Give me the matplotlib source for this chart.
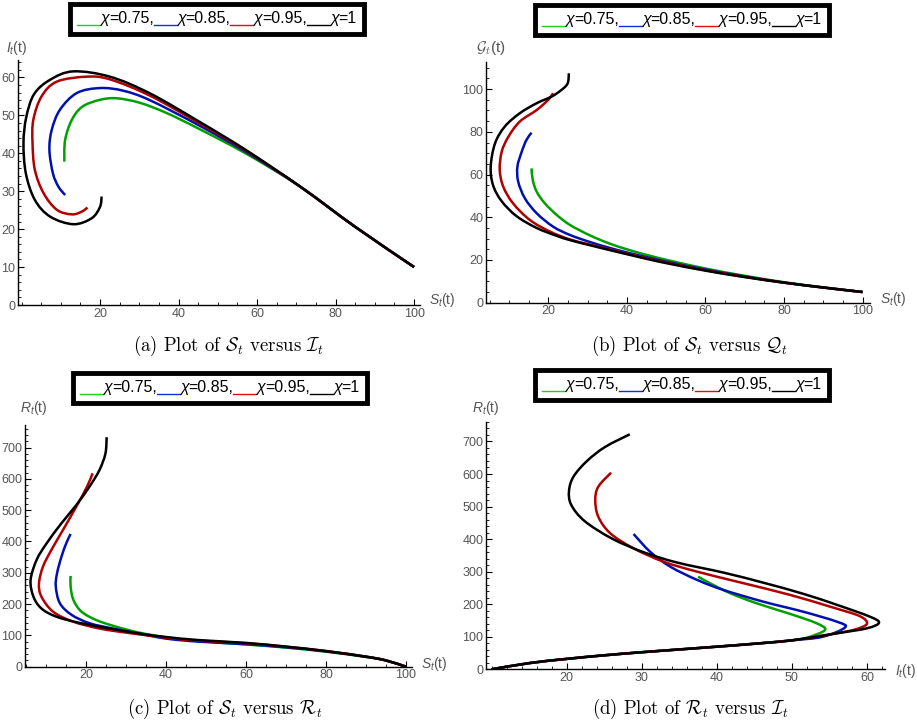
import matplotlib
matplotlib.use("Agg")
import numpy as np
import matplotlib.pyplot as plt
from matplotlib.offsetbox import TextArea, HPacker, AnchoredOffsetbox, DrawingArea
from matplotlib.lines import Line2D
from matplotlib.path import Path
from matplotlib.patches import PathPatch
from matplotlib.ticker import MultipleLocator

plt.rcParams['font.family'] = ['Liberation Sans', 'DejaVu Sans']
plt.rcParams['mathtext.fontset'] = 'custom'
plt.rcParams['mathtext.it'] = 'Liberation Sans:italic'
plt.rcParams['mathtext.rm'] = 'Liberation Sans'

# ---------------- data ----------------
chi_labels = ["0.75", "0.85", "0.95", "1"]
line_colors = ['#00a000', '#0010b0', '#b00000', '#000000']
legend_colors = ['#20d020', '#1030e0', '#e01010', '#000000']

# (a) S vs I
a_S_075 = [100, 85, 71, 57.4, 45.5, 37.0, 30.2, 24.3, 20.0, 15.5, 12.8, 11.1, 10.9]
a_I_075 = [10, 20.6, 31.2, 39.8, 46.3, 50.6, 53.3, 54.5, 54.1, 52.3, 48.8, 43.5, 37.8]
a_S_085 = [100, 85, 71, 57.4, 45.5, 32.7, 25.9, 20.0, 14.1, 9.8, 7.7, 7.1, 8.0, 9.4, 11.1]
a_I_085 = [10, 20.6, 31.2, 40.2, 47.2, 54.0, 56.5, 57.2, 55.9, 51.5, 46.2, 40.9, 34.7, 31.2, 29.0]
a_S_095 = [100, 85, 71, 57.4, 45.5, 32.7, 22.5, 16.6, 9.0, 5.1, 3.0, 2.8, 3.4, 5.6, 9.0, 12.8, 15.3, 16.8]
a_I_095 = [10, 20.6, 31.2, 40.5, 47.8, 55.2, 59.5, 60.2, 58.9, 55.0, 48.8, 42.7, 35.6, 29.5, 25.1, 23.9, 24.6, 25.7]
a_S_1 = [100, 85, 71, 57.4, 45.5, 32.7, 22.5, 13.2, 7.3, 3.2, 1.2, 0.5, 1.1, 3.4, 7.3, 13.2, 17.9, 20.0, 20.4]
a_I_1 = [10, 20.6, 31.2, 40.7, 48.2, 55.8, 60.2, 61.6, 59.4, 55.6, 49.5, 42.7, 34.7, 27.7, 23.3, 21.3, 22.9, 25.9, 28.6]

# (b) S vs Q
b_S_075 = [100, 90, 80, 70, 60, 50.9, 45.8, 40.7, 35.7, 30.6, 25.5, 22.1, 19.1, 17.0, 16.0, 15.7]
b_Q_075 = [5.0, 7.2, 9.6, 12.6, 16.0, 19.7, 22.0, 24.6, 27.6, 31.5, 36.4, 41.1, 46.5, 52.0, 57.5, 62.9]
b_S_085 = [100, 90, 80, 70, 60, 50.9, 45.8, 40.7, 35.7, 30.6, 25.5, 21.2, 17.0, 14.0, 12.3, 12.1, 13.2, 14.4, 15.7]
b_Q_085 = [5.0, 7.1, 9.4, 12.3, 15.5, 18.9, 21.0, 23.2, 25.6, 28.4, 31.7, 35.6, 41.9, 48.9, 56.7, 63.7, 70.7, 76.2, 79.6]
b_S_095 = [100, 90, 80, 70, 60, 50.9, 45.8, 40.7, 35.7, 30.6, 25.5, 20.4, 15.3, 11.0, 8.5, 7.6, 8.1, 9.8, 12.7, 17.0, 19.9, 21.2]
b_Q_095 = [5.0, 7.1, 9.4, 12.1, 15.2, 18.5, 20.5, 22.7, 24.9, 27.2, 29.6, 33.3, 38.7, 46.5, 54.3, 62.2, 70.7, 77.7, 84.8, 90.2, 94.9, 98.1]
b_S_1 = [100, 90, 80, 70, 60, 50.9, 45.8, 40.7, 35.7, 30.6, 25.5, 22.1, 17.0, 11.9, 8.1, 5.9, 5.3, 6.4, 8.9, 12.7, 17.0, 20.8, 23.3, 24.9, 25.2]
b_Q_1 = [5.0, 7.1, 9.4, 12.0, 15.0, 18.2, 20.2, 22.4, 24.6, 26.9, 29.3, 31.3, 35.0, 40.5, 47.5, 55.0, 63.7, 74.6, 82.5, 88.7, 93.4, 96.5, 99.6, 102.7, 107.4]

# (c) S vs R
c_S_075 = [100, 95, 90, 80, 70, 60, 48.2, 39.9, 33.3, 27.5, 22.6, 18.9, 16.9, 16.2, 16.2]
c_R_075 = [0, 20, 31, 48, 61, 71, 82, 94, 109, 128, 149, 176, 213, 256, 290]
c_S_085 = [100, 95, 90, 80, 70, 60, 48.2, 39.9, 33.3, 26.7, 20.9, 16.4, 13.5, 12.5, 12.8, 13.9, 15.1, 16.2]
c_R_085 = [0, 20, 32, 49, 62, 72, 80, 90, 106, 122, 139, 166, 203, 256, 298, 351, 394, 424]
c_S_095 = [100, 95, 90, 80, 70, 60, 48.2, 43.3, 36.6, 30.0, 23.4, 16.8, 11.8, 8.9, 8.3, 9.3, 11.4, 14.3, 17.6, 20.3, 21.7]
c_R_095 = [0, 20, 32, 50, 64, 75, 83, 88, 98, 109, 122, 144, 176, 224, 266, 320, 373, 437, 511, 575, 618]
c_S_1 = [100, 95, 90, 80, 70, 60, 48.2, 39.9, 33.3, 25.9, 18.4, 12.6, 8.9, 6.9, 6.2, 7.7, 10.2, 13.9, 17.6, 20.9, 23.4, 24.9, 25.2]
c_R_1 = [0, 20, 32, 50, 64, 76, 85, 95, 106, 122, 140, 160, 186, 224, 277, 341, 394, 458, 516, 575, 628, 681, 733]

# (d) I vs R
d_I_075 = [10, 15, 20, 25, 30, 35, 40, 45, 50, 52.0, 54.4, 53.3, 49.8, 45.3, 41.8, 39.1, 37.5]
d_R_075 = [0, 19, 32, 43, 52.5, 61, 69.5, 78.5, 89, 97, 120.7, 141.3, 169.9, 202.8, 233.5, 264.2, 284.5]
d_I_085 = [10, 15, 20, 25, 30, 35, 40, 45, 50, 54.1, 57.1, 56.0, 51.5, 46.2, 40.9, 37.4, 33.8, 31.1, 28.9]
d_R_085 = [0, 19, 32, 43, 52.5, 61, 69.5, 78.5, 89, 100, 129, 146.2, 177, 207.7, 243.6, 274.3, 315.2, 361.3, 415.7]
d_I_095 = [10, 15, 20, 25, 30, 35, 40, 45, 50, 56.0, 58.5, 60.0, 59.0, 55.1, 49.8, 43.6, 37.4, 32.9, 28.9, 25.8, 24.2, 23.8, 24.2, 25.9]
d_R_095 = [0, 19, 32, 43, 52.5, 61, 69.5, 78.5, 89, 111, 123, 140, 163.7, 192.3, 228.3, 264.2, 299.8, 330.6, 371.7, 417.8, 468.8, 520, 561, 604]
d_I_1 = [10, 15, 20, 25, 30, 35, 40, 45, 50, 56.0, 60.0, 61.6, 60.4, 56.0, 51.5, 46.2, 40.9, 34.7, 30.2, 26.0, 22.4, 20.6, 20.3, 20.9, 22.7, 25.1, 28.4]
d_R_1 = [0, 19, 32, 43, 52.5, 61, 69.5, 78.5, 89, 110.6, 126, 143, 161.6, 198, 232, 266, 297, 328, 360, 402, 455, 505, 548, 592, 640, 683, 722]

# ---------------- figure ----------------
W, H = 917, 723
fig = plt.figure(figsize=(W / 100, H / 100), dpi=100)


def px_axes(l, r, t, b):
    return fig.add_axes([l / W, 1 - b / H, (r - l) / W, (b - t) / H])


def smooth_curve(ax, xs, ys, color, lw=1.8):
    # draw a smooth Bezier curve passing through the read points
    p = np.column_stack([xs, ys]).astype(float)
    n = len(p)
    verts = [p[0]]
    codes = [Path.MOVETO]
    for i in range(n - 1):
        p0 = p[i - 1] if i > 0 else p[i]
        p1, p2 = p[i], p[i + 1]
        p3 = p[i + 2] if i + 2 < n else p[i + 1]
        verts += [p1 + (p2 - p0) / 6.0, p2 - (p3 - p1) / 6.0, p2]
        codes += [Path.CURVE4] * 3
    ax.add_patch(PathPatch(Path(verts, codes), fill=False, edgecolor=color,
                           lw=lw, capstyle='butt', joinstyle='round'))


def style(ax, xlim, ylim, xticks, yticks, xminor, yminor):
    ax.set_xlim(*xlim)
    ax.set_ylim(*ylim)
    for s in ['top', 'right']:
        ax.spines[s].set_visible(False)
    for s in ['left', 'bottom']:
        ax.spines[s].set_linewidth(1.0)
    ax.set_xticks(xticks)
    ax.set_yticks(yticks)
    ax.xaxis.set_minor_locator(MultipleLocator(xminor))
    ax.yaxis.set_minor_locator(MultipleLocator(yminor))
    ax.tick_params(which='major', direction='in', length=4, width=0.8,
                   labelsize=9, labelcolor='#555555', pad=2)
    ax.tick_params(which='minor', direction='in', length=2, width=0.6)
    ax.patch.set_alpha(0)


def legend(cx, cy):
    items = []
    for col, val in zip(legend_colors, chi_labels):
        da = DrawingArea(16.5, 2, 0, 2.5)
        da.add_artist(Line2D([0, 16.5], [-1.3, -1.3], color=col, lw=1.0))
        items.append(da)
        items.append(TextArea("χ", textprops=dict(style='italic', fontsize=11.5)))
        sep = "," if val != "1" else ""
        items.append(TextArea("=" + val + sep, textprops=dict(fontsize=11.5)))
    pack = HPacker(children=items, align="baseline", pad=0, sep=0)
    box = AnchoredOffsetbox(loc='center', child=pack, pad=0.55, borderpad=0,
                            frameon=True, bbox_to_anchor=(cx / W, 1 - cy / H),
                            bbox_transform=fig.transFigure)
    box.patch.set_linewidth(3.5)
    box.patch.set_edgecolor('black')
    box.patch.set_boxstyle('square', pad=0)
    fig.add_artist(box)


def ftext(x, y, s, **kw):
    fig.text(x / W, 1 - y / H, s, **kw)


lab_kw = dict(fontsize=10, color='#555555', ha='center', va='center')
cap_kw = dict(fontsize=13.5, family='cmr10', math_fontfamily='cm', ha='center', va='center')

# (a)
ax = px_axes(18, 420, 60, 305)
for xs, ys, c in zip([a_S_075, a_S_085, a_S_095, a_S_1], [a_I_075, a_I_085, a_I_095, a_I_1], line_colors):
    smooth_curve(ax, xs, ys, c)
style(ax, (-0.9, 101.5), (0, 64.6), [20, 40, 60, 80, 100], [0, 10, 20, 30, 40, 50, 60], 5, 2)
legend(217, 19)
ftext(17, 48, r"$I_t$(t)", **lab_kw)
ftext(442, 300, r"$S_t$(t)", **lab_kw)
ftext(228, 346, r"(a) Plot of $\mathcal{S}_t$ versus $\mathcal{I}_t$", **cap_kw)

# (b)
ax = px_axes(486, 870, 62, 302.7)
for xs, ys, c in zip([b_S_075, b_S_085, b_S_095, b_S_1], [b_Q_075, b_Q_085, b_Q_095, b_Q_1], line_colors):
    smooth_curve(ax, xs, ys, c)
style(ax, (4.1, 101.9), (0, 112.7), [20, 40, 60, 80, 100], [0, 20, 40, 60, 80, 100], 5, 5)
legend(682, 20)
ftext(491, 48, r"$\mathcal{G}_t$(t)", math_fontfamily='cm', fontsize=11, color='#555555',
      ha='center', va='center')
ftext(893, 299, r"$S_t$(t)", **lab_kw)
ftext(690, 346, r"(b) Plot of $\mathcal{S}_t$ versus $\mathcal{Q}_t$", **cap_kw)

# (c)
ax = px_axes(25, 412, 425, 666.7)
for xs, ys, c in zip([c_S_075, c_S_085, c_S_095, c_S_1], [c_R_075, c_R_085, c_R_095, c_R_1], line_colors):
    smooth_curve(ax, xs, ys, c)
style(ax, (4.8, 101.5), (0, 772), [20, 40, 60, 80, 100], [0, 100, 200, 300, 400, 500, 600, 700], 5, 20)
legend(220, 388)
ftext(34, 408, r"$R_t$(t)", **lab_kw)
ftext(434, 664, r"$S_t$(t)", **lab_kw)
ftext(225, 709, r"(c) Plot of $\mathcal{S}_t$ versus $\mathcal{R}_t$", **cap_kw)

# (d)
ax = px_axes(486, 885, 421.7, 669.3)
for xs, ys, c in zip([d_I_075, d_I_085, d_I_095, d_I_1], [d_R_075, d_R_085, d_R_095, d_R_1], line_colors):
    smooth_curve(ax, xs, ys, c)
style(ax, (9.24, 62.4), (0, 760.7), [20, 30, 40, 50, 60], [0, 100, 200, 300, 400, 500, 600, 700], 2, 20)
legend(682, 385)
ftext(486, 408, r"$R_t$(t)", **lab_kw)
ftext(906, 671, r"$I_t$(t)", **lab_kw)
ftext(690, 709, r"(d) Plot of $\mathcal{R}_t$ versus $\mathcal{I}_t$", **cap_kw)

fig.savefig("out.png", dpi=100)
